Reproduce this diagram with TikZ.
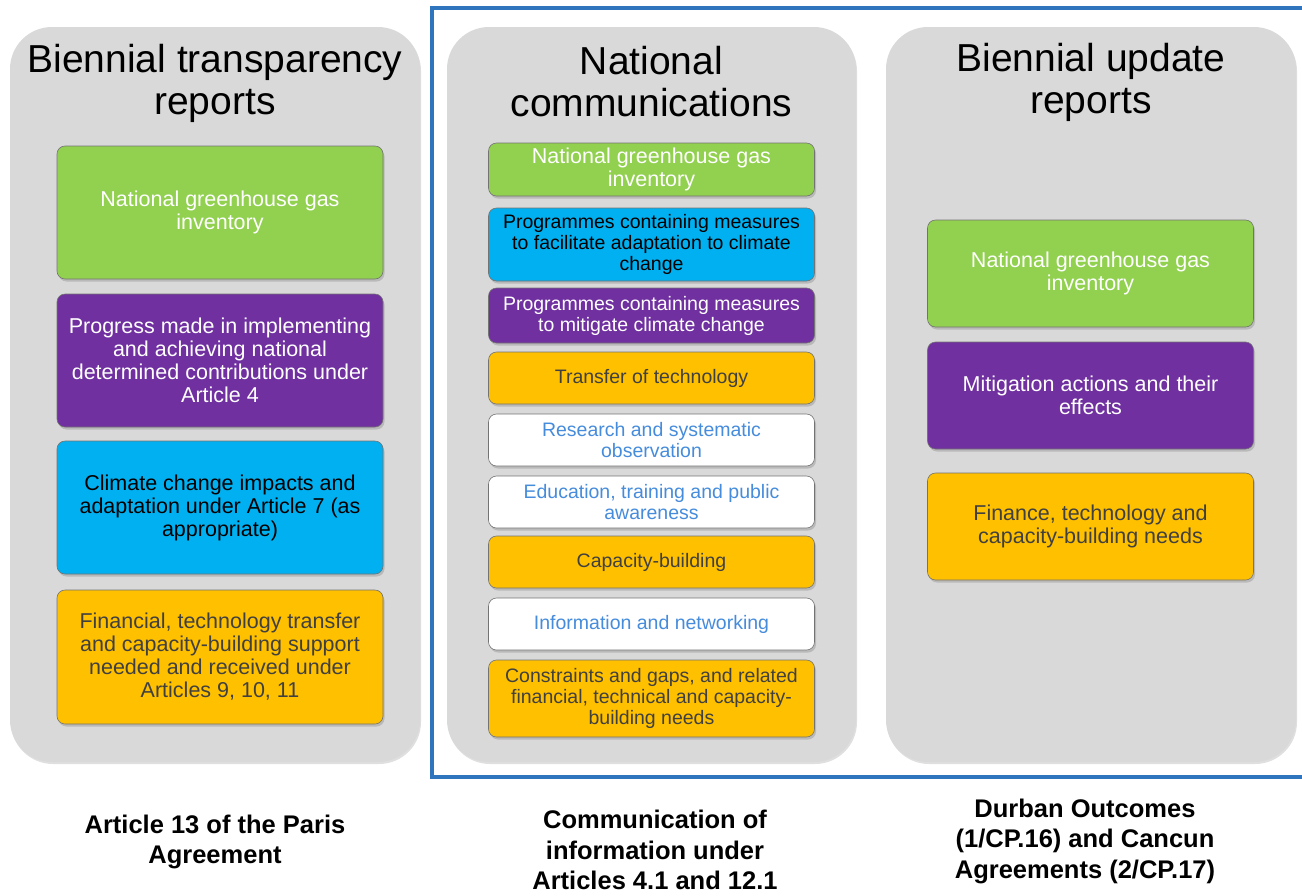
\documentclass[tikz,border=0pt]{standalone}
\usepackage{fontspec}
\setmainfont{Liberation Sans}
\usetikzlibrary{shadows}
\definecolor{panelgray}{RGB}{217,217,217}
\definecolor{igreen}{RGB}{146,208,80}
\definecolor{ipurple}{RGB}{112,48,160}
\definecolor{icyan}{RGB}{0,176,240}
\definecolor{iorange}{RGB}{255,192,0}
\definecolor{otext}{RGB}{64,64,64}
\definecolor{btext}{RGB}{70,140,220}
\definecolor{frameblue}{RGB}{46,117,190}
\tikzset{
  panel/.style={fill=panelgray, rounded corners=42pt, inner sep=0pt,
    drop shadow={shadow xshift=1pt, shadow yshift=-2pt, opacity=0.25}},
  ptitle/.style={align=center, inner sep=0pt, font=\fontsize{39}{42}\selectfont},
  item/.style={draw=black!55, line width=0.6pt, rounded corners=8pt, inner sep=0pt, align=center,
    drop shadow={shadow xshift=1.5pt, shadow yshift=-2.5pt, opacity=0.35}},
  bigtxt/.style={font=\fontsize{21.5}{23}\selectfont},
  smalltxt/.style={font=\fontsize{19.5}{21}\selectfont},
  gbox/.style={item, fill=igreen, text=white},
  pbox/.style={item, fill=ipurple, text=white},
  cbox/.style={item, fill=icyan, text=black},
  obox/.style={item, fill=iorange, text=otext},
  wbox/.style={item, fill=white, text=btext},
  w1/.style={minimum width=326pt},
  bottomlbl/.style={align=center, inner sep=0pt, font=\fontsize{25.5}{30.5}\selectfont\bfseries}
}
\begin{document}
\begin{tikzpicture}[x=1pt,y=-1pt]
\useasboundingbox (0,0) rectangle (1302,895);
% blue frame
\coordinate (fa) at (1302,8);
\coordinate (fb) at (432,8);
\coordinate (fc) at (432,777);
\coordinate (fd) at (1302,777);
\draw[frameblue, line width=3.2pt] (fa) -- (fb) -- (fc) -- (fd);
% panels
\node[panel, minimum width=410pt, minimum height=735pt] (p1) at (215,394.5) {};
\node[panel, minimum width=409pt, minimum height=735pt] (p2) at (651.5,394.5) {};
\node[panel, minimum width=410pt, minimum height=735pt] (p3) at (1091,394.5) {};
\node[ptitle] (t1) at (215,83.5) {Biennial transparency\\reports};
\node[ptitle] (t2) at (651.5,82) {National\\communications};
\node[ptitle] (t3) at (1091,82.5) {Biennial update\\reports};
% panel 1
\node[gbox, w1, bigtxt, minimum height=133pt] (a1) at (220,212.5) {National greenhouse gas\\inventory};
\node[pbox, w1, bigtxt, minimum height=133pt] (a2) at (220,360.5) {Progress made in implementing\\and achieving national\\determined contributions under\\Article 4};
\node[cbox, w1, bigtxt, minimum height=133pt] (a3) at (220,507.5) {Climate change impacts and\\adaptation under Article 7 (as\\appropriate)};
\node[obox, w1, bigtxt, minimum height=134pt] (a4) at (220,657) {Financial, technology transfer\\and capacity-building support\\needed and received under\\Articles 9, 10, 11};
% panel 2
\node[gbox, w1, bigtxt, minimum height=53pt] (b1) at (651.5,169.5) {National greenhouse gas\\inventory};
\node[cbox, w1, smalltxt, minimum height=73pt] (b2) at (651.5,244.5) {Programmes containing measures\\to facilitate adaptation to climate\\change};
\node[pbox, w1, smalltxt, minimum height=55pt] (b3) at (651.5,315.5) {Programmes containing measures\\to mitigate climate change};
\node[obox, w1, smalltxt, minimum height=52pt] (b4) at (651.5,378) {Transfer of technology};
\node[wbox, w1, smalltxt, minimum height=52pt] (b5) at (651.5,440) {Research and systematic\\observation};
\node[wbox, w1, smalltxt, minimum height=52pt] (b6) at (651.5,502) {Education, training and public\\awareness};
\node[obox, w1, smalltxt, minimum height=52pt] (b7) at (651.5,562) {Capacity-building};
\node[wbox, w1, smalltxt, minimum height=52pt] (b8) at (651.5,624) {Information and networking};
\node[obox, w1, smalltxt, minimum height=77pt] (b9) at (651.5,698.5) {Constraints and gaps, and related\\financial, technical and capacity-\\building needs};
% panel 3
\node[gbox, w1, bigtxt, minimum height=107pt] (c1) at (1090.5,273.5) {National greenhouse gas\\inventory};
\node[pbox, w1, bigtxt, minimum height=107pt] (c2) at (1090.5,395.5) {Mitigation actions and their\\effects};
\node[obox, w1, bigtxt, minimum height=107pt] (c3) at (1090.5,526.5) {Finance, technology and\\capacity-building needs};
% bottom labels
\node[bottomlbl] (l1) at (215,842) {Article 13 of the Paris\\Agreement};
\node[bottomlbl] (l2) at (655,850) {Communication of\\information under\\Articles 4.1 and 12.1};
\node[bottomlbl] (l3) at (1085,841) {Durban Outcomes\\(1/CP.16) and Cancun\\Agreements (2/CP.17)};
\end{tikzpicture}
\end{document}
